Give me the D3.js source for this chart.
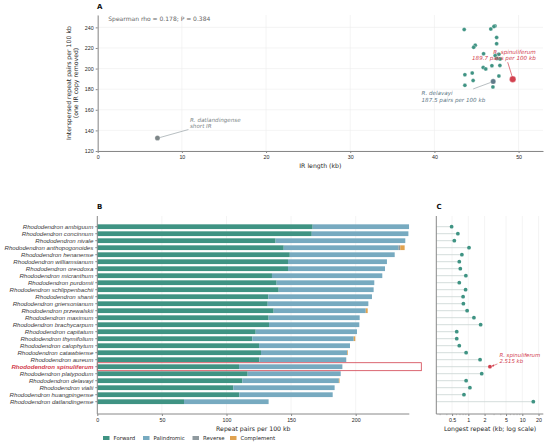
<!DOCTYPE html>
<html>
<head>
<meta charset="utf-8">
<script src="https://cdn.jsdelivr.net/npm/d3@7"></script>
<style>
body { margin: 0; background: #fff; }
svg { font-family: "DejaVu Sans", sans-serif; }
.axis .domain { stroke: #888; }
.axis .tick line { stroke: #888; }
.axis .tick text { font-size: 5.3px; }
.grid line { stroke: #ececec; stroke-width: 0.6; }
.title { fill: #262626; font-size: 6.2px; }
</style>
</head>
<body>
<svg id="fig" width="550" height="444"></svg>
<script>
// Species, top to bottom in panel B / C
const species = [
    "ambiguum", "concinnum", "nivale", "anthopogonoides", "henanense", "williamsianum",
    "oreodoxa", "micranthum", "purdomii", "schlippenbachii", "shanii", "griersonianum",
    "przewalskii", "maximum", "brachycarpum", "capitatum", "thymifolium", "calophytum",
    "catawbiense", "aureum", "spinuliferum", "platypodum", "delavayi", "vialii",
    "huangpingense", "datlandingense"
];
// Repeat pairs per 100 kb by type
const forward     = [166.7, 166.0, 138.0, 144.3, 149.0, 147.6, 147.6, 135.2, 138.8, 140.4, 132.4, 131.9, 136.5,
                     132.6, 132.9, 122.6, 120.0, 125.2, 126.7, 125.4, 109.7, 116.4, 112.3, 105.3, 109.9, 67.1];
const palindromic = [74.6, 74.8, 100.4, 88.7, 81.2, 76.6, 75.1, 85.4, 75.6, 73.5, 80.2, 77.9, 71.3,
                     70.5, 69.9, 78.4, 78.5, 70.4, 66.8, 67.3, 80.0, 72.0, 74.7, 78.4, 72.3, 65.5];
const reverse     = [0, 0, 0, 1.5, 0, 0, 0, 0, 0, 0, 0, 0, 0, 0, 0, 0, 0, 0, 0, 0, 0, 0, 0, 0, 0, 0];
const complement  = [0, 0, 0, 3.4, 0, 0, 0, 0, 0, 0, 0, 0, 1.5, 0, 0, 0, 1.2, 0, 0.5, 0, 0, 0, 0.5, 0, 0, 0];
// IR length (kb), panel A
const irLength    = [47.2, 47.07, 46.7, 43.54, 47.39, 47.39, 44.85, 44.66, 45.84, 47.66, 47.22, 47.42, 47.8,
                     47.78, 46.83, 45.8, 46.1, 44.49, 43.62, 47.66, 49.3, 44.6, 46.98, 43.62, 46.95, 7.1];
// Longest repeat (kb), panel C
const longestRepeat = [0.49, 0.64, 0.55, 1.03, 0.76, 0.68, 0.71, 0.90, 0.68, 0.89, 0.80, 0.81, 0.95,
                       1.27, 1.69, 0.61, 0.61, 0.68, 0.91, 1.65, 2.515, 1.77, 0.91, 1.07, 0.83, 16.0];

const typeNames  = ["Forward", "Palindromic", "Reverse", "Complement"];
const typeColors = ["#3f9383", "#77aac0", "#8f9a9f", "#e0a24f"];
const ticksA_x = [0, 10, 20, 30, 40, 50];
const ticksA_y = [120, 140, 160, 180, 200, 220, 240];
const ticksB_x = [0, 50, 100, 150, 200];
const ticksC_x = [0.5, 1, 2, 5, 10, 20];

const TEAL = "#3f9383", RED = "#d2404e", SLATE = "#5f7a88", GREY = "#7d8688", INK = "#262626";
const focus = "spinuliferum", delavayi = "delavayi", shortIR = "datlandingense";

const rows = species.map((s, i) => ({
    name: s,
    parts: [forward[i], palindromic[i], reverse[i], complement[i]],
    total: forward[i] + palindromic[i] + reverse[i] + complement[i],
    ir: irLength[i],
    longest: longestRepeat[i]
}));

const svg = d3.select("#fig");

const setPos = (sel, {x, y}) => sel.attr("x", x).attr("y", y);
const label = (g, txt, x, y, opts = {}) => g.append("text")
    .call(setPos, {x, y})
    .attr("font-size", opts.size || 6)
    .attr("font-style", opts.italic ? "italic" : null)
    .attr("font-weight", opts.bold ? "bold" : null)
    .attr("fill", opts.fill || INK)
    .attr("text-anchor", opts.anchor || "start")
    .text(txt);
const title = (g, txt, x, y, rotate = 0) => g.append("text")
    .attr("class", "title")
    .attr("transform", `translate(${x},${y}) rotate(${rotate})`)
    .attr("text-anchor", "middle")
    .text(txt);
const tickInk = g => g.selectAll(".tick text").style("fill", INK);

// ---------------- Panel A ----------------
const xA = d3.scaleLinear().domain([0, 52.9]).range([97.7, 543]);
const yA = d3.scaleLinear().domain([120, 252]).range([151, 15]);
const gA = svg.append("g");

gA.append("g").attr("class", "grid").selectAll("line.v").data(ticksA_x).join("line")
    .attr("x1", xA).attr("x2", xA).attr("y1", yA.range()[0]).attr("y2", yA.range()[1]);
gA.append("g").attr("class", "grid").selectAll("line.h").data(ticksA_y).join("line")
    .attr("x1", xA.range()[0]).attr("x2", xA.range()[1]).attr("y1", yA).attr("y2", yA);

gA.append("g").attr("class", "axis").attr("transform", `translate(0,${yA.range()[0]})`)
    .call(d3.axisBottom(xA).tickValues(ticksA_x).tickSize(2).tickSizeOuter(0).tickPadding(2)).call(tickInk);
gA.append("g").attr("class", "axis").attr("transform", `translate(${xA.range()[0]},0)`)
    .call(d3.axisLeft(yA).tickValues(ticksA_y).tickSize(2).tickSizeOuter(0).tickPadding(2)).call(tickInk);

const ptColor = d => d.name === focus ? RED : d.name === delavayi ? SLATE : d.name === shortIR ? GREY : TEAL;
const ptR = d => d.name === focus ? 3.2 : (d.name === delavayi || d.name === shortIR) ? 2.6 : 2;

const byName = Object.fromEntries(rows.map(d => [d.name, d]));
const fp = byName[focus], dp = byName[delavayi], sp = byName[shortIR];

// annotation leader lines
gA.append("line").attr("stroke", RED).attr("stroke-width", 0.7)
    .attr("x1", xA(fp.ir) - 5).attr("y1", yA(fp.total) - 17).attr("x2", xA(fp.ir) - 0.5).attr("y2", yA(fp.total) - 2.5);
gA.append("line").attr("stroke", "#9aa4a8").attr("stroke-width", 0.7)
    .attr("x1", xA(dp.ir) - 20).attr("y1", yA(dp.total) + 7.5).attr("x2", xA(dp.ir) - 2.5).attr("y2", yA(dp.total) + 1);
gA.append("line").attr("stroke", "#9aa4a8").attr("stroke-width", 0.7)
    .attr("x1", xA(sp.ir) + 2.5).attr("y1", yA(sp.total) - 0.5).attr("x2", xA(sp.ir) + 31).attr("y2", yA(sp.total) - 8.5);

gA.append("g").selectAll("circle")
    .data(rows.slice().sort((a, b) => (a.name === focus) - (b.name === focus)))
    .join("circle")
    .attr("cx", d => xA(d.ir)).attr("cy", d => yA(d.total))
    .attr("r", ptR).attr("fill", ptColor).attr("stroke", "#fff").attr("stroke-width", 0.3);

label(gA, "R. spinuliferum", xA(fp.ir) + 23, yA(fp.total) - 25, {size: 5.6, italic: true, fill: RED, anchor: "end"});
label(gA, `${fp.total.toFixed(1)} pairs per 100 kb`, xA(fp.ir) + 23, yA(fp.total) - 19, {size: 5.6, italic: true, fill: RED, anchor: "end"});
label(gA, "R. delavayi", xA(dp.ir) - 71.6, yA(dp.total) + 14, {size: 5.6, italic: true, fill: SLATE});
label(gA, "187.5 pairs per 100 kb", xA(dp.ir) - 71.6, yA(dp.total) + 20.4, {size: 5.6, italic: true, fill: SLATE});
label(gA, "R. datlandingense", xA(sp.ir) + 32.5, yA(sp.total) - 16.5, {size: 5.6, italic: true, fill: GREY});
label(gA, "short IR", xA(sp.ir) + 32.5, yA(sp.total) - 10, {size: 5.6, italic: true, fill: GREY});

label(gA, "Spearman rho = 0.178; P = 0.384", 108.3, 21.3, {size: 6, fill: "#666"});
label(gA, "A", 97, 9, {size: 7, bold: true, fill: "#111"});
title(gA, "IR length (kb)", (xA.range()[0] + xA.range()[1]) / 2, 168);
title(gA, "Interspersed repeat pairs per 100 kb", 71, 83, -90);
title(gA, "(one IR copy removed)", 77.5, 83, -90);

// ---------------- Panel B ----------------
const yB = d3.scaleBand().domain(species).range([223.2, 405.2]).paddingInner(0.32).paddingOuter(0.16);
const xB = d3.scaleLinear().domain([0, 241.5]).range([97.3, 409.3]);
const plotBottom = 414, plotTop = 216;
const gB = svg.append("g");

gB.append("g").attr("class", "grid").selectAll("line").data(ticksB_x.slice(1)).join("line")
    .attr("x1", xB).attr("x2", xB).attr("y1", plotTop).attr("y2", plotBottom);

const stack = d3.stack().keys([0, 1, 2, 3]).value((d, k) => d.parts[k])(rows);
gB.append("g").selectAll("g").data(stack).join("g")
    .attr("fill", (d, i) => typeColors[i])
    .selectAll("rect").data(d => d).join("rect")
    .attr("x", d => xB(d[0])).attr("width", d => Math.max(0, xB(d[1]) - xB(d[0])))
    .attr("y", d => yB(d.data.name)).attr("height", yB.bandwidth());

// highlight box
gB.append("rect")
    .attr("x", xB(0)).attr("y", yB(focus) - 1.6)
    .attr("width", xB.range()[1] + 12 - xB(0)).attr("height", yB.bandwidth() + 3.2)
    .attr("fill", "none").attr("stroke", RED).attr("stroke-width", 0.8);

gB.append("g").attr("class", "axis").attr("transform", `translate(0,${plotBottom})`)
    .call(d3.axisBottom(xB).tickValues(ticksB_x).tickSize(2).tickSizeOuter(0).tickPadding(2)).call(tickInk)
    .call(g => g.select(".domain").attr("d", `M${xB(0)},0H${xB.range()[1]}`));
const axB = gB.append("g").attr("class", "axis").attr("transform", `translate(${xB(0)},0)`)
    .call(d3.axisLeft(yB).tickSize(2).tickSizeOuter(0).tickPadding(2).tickFormat(s => "Rhododendron " + s))
    .call(g => g.select(".domain").attr("d", `M0,${plotTop}V${plotBottom}`));
axB.selectAll(".tick text")
    .style("font-size", "6.1px").style("font-style", "italic")
    .style("fill", d => d === focus ? RED : "#3a3a3a")
    .style("font-weight", d => d === focus ? "bold" : null);

label(gB, "B", 97, 209, {size: 7, bold: true, fill: "#111"});
title(gB, "Repeat pairs per 100 kb", (xB(0) + xB.range()[1]) / 2, 430.5);

// legend
const leg = gB.append("g").selectAll("g").data(typeNames).join("g")
    .attr("transform", (d, i) => `translate(${[103, 143, 192.5, 230][i]},436)`);
leg.append("rect").attr("width", 6.5).attr("height", 4).attr("fill", (d, i) => typeColors[i]);
leg.append("text").attr("x", 10.5).attr("y", 4).attr("font-size", 5.4).attr("fill", INK).text(d => d);

// ---------------- Panel C ----------------
const xC = d3.scaleLog().domain([0.255, 24.5]).range([436.3, 543.3]);
const gC = svg.append("g");

gC.append("g").attr("class", "grid").selectAll("line").data(ticksC_x).join("line")
    .attr("x1", xC).attr("x2", xC).attr("y1", plotTop).attr("y2", plotBottom);

const yMid = d => yB(d.name) + yB.bandwidth() / 2;
gC.append("g").selectAll("line").data(rows).join("line")
    .attr("x1", xC.range()[0]).attr("x2", d => xC(d.longest))
    .attr("y1", yMid).attr("y2", yMid)
    .attr("stroke", "#c8d3d2").attr("stroke-width", 0.8);
gC.append("g").selectAll("circle").data(rows).join("circle")
    .attr("cx", d => xC(d.longest)).attr("cy", yMid).attr("r", 1.9)
    .attr("fill", d => d.name === focus ? RED : TEAL);

const minor = d3.range(-1, 2).flatMap(e => d3.range(2, 10).map(m => m * 10 ** e))
    .filter(v => v >= xC.domain()[0] && v <= xC.domain()[1] && !ticksC_x.includes(v));
gC.append("g").selectAll("line").data(minor).join("line")
    .attr("x1", xC).attr("x2", xC).attr("y1", plotBottom).attr("y2", plotBottom + 1.2)
    .attr("stroke", "#888").attr("stroke-width", 0.5);

gC.append("g").attr("class", "axis").attr("transform", `translate(0,${plotBottom})`)
    .call(d3.axisBottom(xC).tickValues(ticksC_x).tickFormat(d3.format("~g")).tickSize(2).tickSizeOuter(0).tickPadding(2))
    .call(tickInk)
    .call(g => g.select(".domain").attr("d", `M${xC.range()[0]},0H${xC.range()[1]}`));
gC.append("line").attr("x1", xC.range()[0]).attr("x2", xC.range()[0]).attr("y1", plotTop).attr("y2", plotBottom)
    .attr("stroke", "#888");

// annotation for focus species
svg.append("defs").append("marker").attr("id", "arr").attr("viewBox", "0 0 10 10")
    .attr("refX", 9).attr("refY", 5).attr("markerWidth", 4).attr("markerHeight", 4).attr("orient", "auto")
    .append("path").attr("d", "M0,0L10,5L0,10z").attr("fill", RED);
gC.append("line").attr("stroke", RED).attr("stroke-width", 0.6).attr("marker-end", "url(#arr)")
    .attr("x1", xC(fp.longest) + 7.5).attr("y1", yMid(fp) - 2.8)
    .attr("x2", xC(fp.longest) + 2).attr("y2", yMid(fp) - 0.5);
label(gC, "R. spinuliferum", xC(fp.longest) + 9.5, yMid(fp) - 9.8, {size: 5.4, italic: true, fill: RED});
label(gC, `${fp.longest} kb`, xC(fp.longest) + 9.5, yMid(fp) - 3.6, {size: 5.4, italic: true, fill: RED});

label(gC, "C", 436.5, 209, {size: 7, bold: true, fill: "#111"});
title(gC, "Longest repeat (kb; log scale)", 490, 430.5);
</script>
</body>
</html>
